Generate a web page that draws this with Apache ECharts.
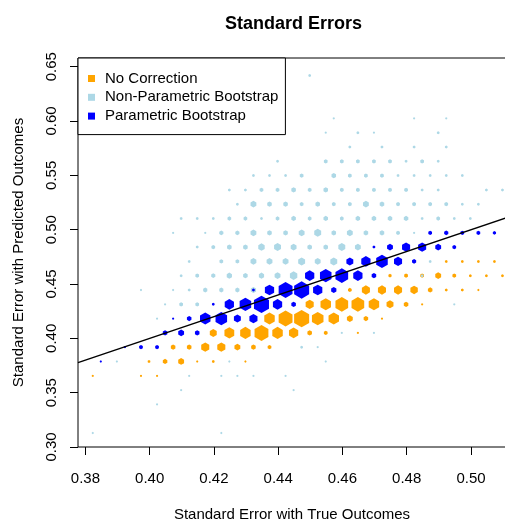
<!DOCTYPE html>
<html>
<head>
<meta charset="utf-8">
<title>Standard Errors</title>
<script src="https://cdn.jsdelivr.net/npm/echarts@6/dist/echarts.min.js"></script>
<style>
  html, body { margin: 0; padding: 0; background: #fff; }
  #main { width: 505px; height: 523px; }
</style>
</head>
<body>
<div id="main"></div>
<script>
// axis ranges and tick labels
var xRange = [0.3777, 0.5109];
var yRange = [0.30, 0.658];
var xTicks = [0.38, 0.40, 0.42, 0.44, 0.46, 0.48, 0.50];
var yTicks = [0.30, 0.35, 0.40, 0.45, 0.50, 0.55, 0.60, 0.65];

// hexbin cells: [x centre, y centre, count]
var noCorrection = [
  [0.4923, 0.4708, 2], [0.4973, 0.4708, 2], [0.5023, 0.4708, 2], [0.5073, 0.4708, 2],
  [0.4748, 0.4577, 3], [0.4798, 0.4577, 4], [0.4848, 0.4577, 4], [0.4898, 0.4577, 10], [0.4948, 0.4577, 4],
  [0.4998, 0.4577, 2], [0.5048, 0.4577, 2], [0.5098, 0.4577, 2],
  [0.4623, 0.4445, 4], [0.4673, 0.4445, 19], [0.4723, 0.4445, 19], [0.4773, 0.4445, 19], [0.4823, 0.4445, 16],
  [0.4873, 0.4445, 6], [0.4923, 0.4445, 2], [0.4973, 0.4445, 2], [0.5023, 0.4445, 1],
  [0.4498, 0.4313, 19], [0.4548, 0.4313, 32], [0.4598, 0.4313, 47], [0.4648, 0.4313, 47], [0.4698, 0.4313, 32],
  [0.4748, 0.4313, 14], [0.4798, 0.4313, 6], [0.4848, 0.4313, 1],
  [0.4373, 0.4182, 32], [0.4423, 0.4182, 56], [0.4473, 0.4182, 66], [0.4523, 0.4182, 39], [0.4573, 0.4182, 32],
  [0.4623, 0.4182, 10], [0.4673, 0.4182, 6], [0.4723, 0.4182, 1],
  [0.4198, 0.4050, 14], [0.4248, 0.4050, 28], [0.4298, 0.4050, 32], [0.4348, 0.4050, 56], [0.4398, 0.4050, 32],
  [0.4448, 0.4050, 25], [0.4498, 0.4050, 6], [0.4548, 0.4050, 4], [0.4648, 0.4050, 1],
  [0.4073, 0.3919, 6], [0.4123, 0.3919, 6], [0.4173, 0.3919, 19], [0.4223, 0.3919, 19], [0.4273, 0.3919, 10],
  [0.4323, 0.3919, 6], [0.4373, 0.3919, 4],
  [0.3998, 0.3787, 2], [0.4048, 0.3787, 6], [0.4098, 0.3787, 10], [0.4148, 0.3787, 1], [0.4198, 0.3787, 2],
  [0.4298, 0.3787, 1],
  [0.3823, 0.3655, 1], [0.3973, 0.3655, 1], [0.4023, 0.3655, 1]
];

var nonParametric = [
  [0.4498, 0.6419, 2],
  [0.4573, 0.6024, 1], [0.4823, 0.6024, 1], [0.4923, 0.6024, 1],
  [0.4548, 0.5893, 1], [0.4648, 0.5893, 2], [0.4698, 0.5893, 1], [0.4898, 0.5893, 2],
  [0.4623, 0.5761, 2], [0.4723, 0.5761, 2], [0.4823, 0.5761, 2], [0.4923, 0.5761, 2],
  [0.4398, 0.5629, 2], [0.4548, 0.5629, 4], [0.4598, 0.5629, 4], [0.4648, 0.5629, 4], [0.4698, 0.5629, 4],
  [0.4748, 0.5629, 4], [0.4798, 0.5629, 2], [0.4848, 0.5629, 4], [0.4898, 0.5629, 2],
  [0.4323, 0.5498, 2], [0.4373, 0.5498, 2], [0.4423, 0.5498, 2], [0.4473, 0.5498, 4], [0.4573, 0.5498, 6],
  [0.4623, 0.5498, 4], [0.4673, 0.5498, 4], [0.4723, 0.5498, 4], [0.4773, 0.5498, 2], [0.4823, 0.5498, 2],
  [0.4873, 0.5498, 2], [0.4923, 0.5498, 2], [0.4973, 0.5498, 2],
  [0.4248, 0.5366, 2], [0.4298, 0.5366, 2], [0.4348, 0.5366, 4], [0.4398, 0.5366, 4], [0.4448, 0.5366, 6],
  [0.4498, 0.5366, 4], [0.4548, 0.5366, 6], [0.4598, 0.5366, 4], [0.4648, 0.5366, 4], [0.4698, 0.5366, 4],
  [0.4748, 0.5366, 4], [0.4798, 0.5366, 4], [0.4848, 0.5366, 2], [0.4898, 0.5366, 2], [0.5048, 0.5366, 2],
  [0.5098, 0.5366, 2],
  [0.4273, 0.5235, 2], [0.4323, 0.5235, 10], [0.4373, 0.5235, 6], [0.4423, 0.5235, 6], [0.4473, 0.5235, 4],
  [0.4523, 0.5235, 6], [0.4573, 0.5235, 4], [0.4623, 0.5235, 4], [0.4673, 0.5235, 10], [0.4723, 0.5235, 6],
  [0.4773, 0.5235, 4], [0.4823, 0.5235, 4], [0.4873, 0.5235, 4], [0.4923, 0.5235, 4], [0.4973, 0.5235, 2],
  [0.5023, 0.5235, 2],
  [0.4098, 0.5103, 2], [0.4148, 0.5103, 2], [0.4198, 0.5103, 2], [0.4248, 0.5103, 4], [0.4298, 0.5103, 4],
  [0.4348, 0.5103, 2], [0.4398, 0.5103, 4], [0.4448, 0.5103, 6], [0.4498, 0.5103, 4], [0.4548, 0.5103, 6],
  [0.4598, 0.5103, 4], [0.4648, 0.5103, 6], [0.4698, 0.5103, 6], [0.4748, 0.5103, 6], [0.4798, 0.5103, 6],
  [0.4848, 0.5103, 2], [0.4898, 0.5103, 4], [0.4948, 0.5103, 2], [0.4998, 0.5103, 2],
  [0.4073, 0.4971, 1], [0.4173, 0.4971, 1], [0.4223, 0.4971, 5], [0.4273, 0.4971, 5], [0.4323, 0.4971, 10],
  [0.4373, 0.4971, 6], [0.4423, 0.4971, 6], [0.4473, 0.4971, 10], [0.4523, 0.4971, 14], [0.4573, 0.4971, 6],
  [0.4623, 0.4971, 10], [0.4673, 0.4971, 6], [0.4723, 0.4971, 6], [0.4773, 0.4971, 4], [0.4823, 0.4971, 1],
  [0.4148, 0.4840, 2], [0.4198, 0.4840, 4], [0.4248, 0.4840, 6], [0.4298, 0.4840, 6], [0.4348, 0.4840, 12],
  [0.4398, 0.4840, 14], [0.4448, 0.4840, 10], [0.4498, 0.4840, 6], [0.4548, 0.4840, 6], [0.4598, 0.4840, 14],
  [0.4648, 0.4840, 10],
  [0.4123, 0.4708, 2], [0.4223, 0.4708, 4], [0.4273, 0.4708, 4], [0.4323, 0.4708, 10], [0.4373, 0.4708, 10],
  [0.4423, 0.4708, 10], [0.4473, 0.4708, 14], [0.4523, 0.4708, 10], [0.4573, 0.4708, 14], [0.4873, 0.4708, 2],
  [0.4098, 0.4577, 2], [0.4148, 0.4577, 4], [0.4198, 0.4577, 5], [0.4248, 0.4577, 8], [0.4298, 0.4577, 6],
  [0.4348, 0.4577, 8], [0.4398, 0.4577, 10], [0.4448, 0.4577, 16], [0.4848, 0.4577, 2],
  [0.3973, 0.4445, 1], [0.4073, 0.4445, 1], [0.4123, 0.4445, 2], [0.4173, 0.4445, 5], [0.4223, 0.4445, 5],
  [0.4273, 0.4445, 5], [0.4323, 0.4445, 8],
  [0.4048, 0.4313, 1], [0.4098, 0.4313, 4], [0.4148, 0.4313, 4], [0.4948, 0.4313, 1],
  [0.4023, 0.4182, 1],
  [0.4598, 0.4050, 1], [0.4698, 0.4050, 1],
  [0.4473, 0.3919, 2], [0.4523, 0.3919, 1],
  [0.3898, 0.3787, 1], [0.4248, 0.3787, 1], [0.4548, 0.3787, 1],
  [0.4123, 0.3655, 1], [0.4223, 0.3655, 1], [0.4273, 0.3655, 1], [0.4323, 0.3655, 1], [0.4423, 0.3655, 1],
  [0.4098, 0.3524, 1], [0.4448, 0.3524, 1],
  [0.4023, 0.3392, 1],
  [0.3823, 0.3129, 1], [0.4223, 0.3129, 1]
];

var parametric = [
  [0.4873, 0.4971, 4], [0.4923, 0.4971, 5], [0.4973, 0.4971, 4], [0.5023, 0.4971, 4], [0.5073, 0.4971, 3],
  [0.4698, 0.4840, 2], [0.4748, 0.4840, 10], [0.4798, 0.4840, 19], [0.4848, 0.4840, 19], [0.4898, 0.4840, 10],
  [0.4948, 0.4840, 4],
  [0.4623, 0.4708, 14], [0.4673, 0.4708, 25], [0.4723, 0.4708, 39], [0.4773, 0.4708, 19], [0.4823, 0.4708, 5],
  [0.4498, 0.4577, 25], [0.4548, 0.4577, 39], [0.4598, 0.4577, 47], [0.4648, 0.4577, 25], [0.4698, 0.4577, 6],
  [0.4323, 0.4445, 2], [0.4373, 0.4445, 25], [0.4423, 0.4445, 56], [0.4473, 0.4445, 66], [0.4523, 0.4445, 25],
  [0.4573, 0.4445, 8],
  [0.4198, 0.4313, 2], [0.4248, 0.4313, 25], [0.4298, 0.4313, 39], [0.4348, 0.4313, 66], [0.4398, 0.4313, 25],
  [0.4448, 0.4313, 6],
  [0.4073, 0.4182, 1], [0.4123, 0.4182, 6], [0.4173, 0.4182, 32], [0.4223, 0.4182, 39], [0.4273, 0.4182, 14],
  [0.4323, 0.4182, 19],
  [0.4048, 0.4050, 6], [0.4098, 0.4050, 10], [0.4148, 0.4050, 6],
  [0.3923, 0.3919, 1], [0.3973, 0.3919, 4], [0.4023, 0.3919, 4],
  [0.3848, 0.3787, 1]
];

// 45 degree reference line across the plot
var refLine = [[xRange[0], xRange[0]], [xRange[1], xRange[1]]];

var fontFamily = '"Liberation Sans", Arial, Helvetica, sans-serif';
var hexPath = 'path://M0,-1L0.866,-0.5L0.866,0.5L0,1L-0.866,0.5L-0.866,-0.5Z';

function hexSize(val) {
  var w = Math.max(2, 1.85 * Math.sqrt(val[2]));
  return [w, w * 1.1547];
}

function hexSeries(name, data, color) {
  return {
    name: name,
    type: 'scatter',
    data: data,
    symbol: hexPath,
    symbolSize: hexSize,
    itemStyle: { color: color, opacity: 1 },
    silent: true
  };
}

var myChart = echarts.init(document.getElementById('main'), null, { renderer: 'canvas' });

var option = {
  animation: false,
  backgroundColor: '#fff',
  textStyle: { fontFamily: fontFamily },
  graphic: [{
    type: 'text',
    left: 293 - 68,
    top: 15,
    style: {
      text: 'Standard Errors',
      fill: '#000',
      font: 'bold 18px ' + fontFamily
    }
  }],
  legend: {
    orient: 'vertical',
    left: 78,
    top: 58,
    padding: [13, 7, 11, 10],
    itemWidth: 7,
    itemHeight: 7,
    itemGap: 3.8,
    icon: 'rect',
    borderColor: '#000',
    borderWidth: 1,
    backgroundColor: '#fff',
    selectedMode: false,
    data: ['No Correction', 'Non-Parametric Bootstrap', 'Parametric Bootstrap'],
    textStyle: { fontSize: 15, color: '#000', fontFamily: fontFamily, padding: [0, 0, 0, 5] }
  },
  grid: {
    left: 78,
    right: -1,
    top: 58,
    bottom: 76,
    outerBoundsMode: 'none',
    containLabel: false,
    show: true,
    borderColor: '#000',
    borderWidth: 1
  },
  xAxis: {
    type: 'value',
    min: xRange[0],
    max: xRange[1],
    name: 'Standard Error with True Outcomes',
    nameLocation: 'middle',
    nameGap: 60,
    nameTextStyle: { fontSize: 15, color: '#000', fontFamily: fontFamily },
    splitLine: { show: false },
    axisLine: { show: false },
    axisTick: { show: true, length: 8, customValues: xTicks, lineStyle: { color: '#000' } },
    axisLabel: {
      customValues: xTicks,
      fontSize: 15,
      color: '#000',
      margin: 24,
      formatter: function (v) { return v.toFixed(2); }
    }
  },
  yAxis: {
    type: 'value',
    min: yRange[0],
    max: yRange[1],
    name: 'Standard Error with Predicted Outcomes',
    nameLocation: 'middle',
    nameGap: 52,
    nameTextStyle: { fontSize: 15, color: '#000', fontFamily: fontFamily },
    splitLine: { show: false },
    axisLine: { show: false },
    axisTick: { show: true, length: 8, customValues: yTicks, lineStyle: { color: '#000' } },
    axisLabel: {
      customValues: yTicks,
      rotate: 90,
      fontSize: 15,
      color: '#000',
      margin: 19,
      formatter: function (v) { return v.toFixed(2); }
    }
  },
  series: [
    hexSeries('No Correction', noCorrection, '#FFA500'),
    hexSeries('Non-Parametric Bootstrap', nonParametric, '#ADD8E6'),
    hexSeries('Parametric Bootstrap', parametric, '#0000FF'),
    {
      name: 'reference',
      type: 'line',
      data: refLine,
      symbol: 'none',
      silent: true,
      z: 5,
      lineStyle: { color: '#000', width: 1.4 }
    }
  ]
};

myChart.setOption(option);
</script>
</body>
</html>
